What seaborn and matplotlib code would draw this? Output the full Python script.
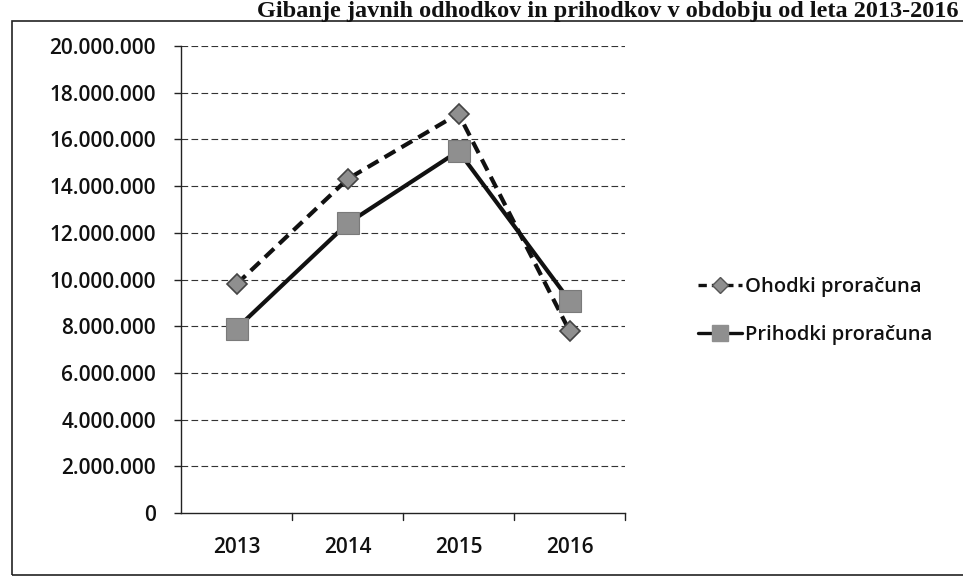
import matplotlib
matplotlib.use("Agg")
import matplotlib.pyplot as plt
import seaborn as sns
import pandas as pd
from matplotlib.lines import Line2D
from matplotlib.patches import Rectangle
from matplotlib.ticker import FuncFormatter, MultipleLocator

years = ["2013", "2014", "2015", "2016"]
ohodki = [9_800_000, 14_300_000, 17_100_000, 7_800_000]
prihodki = [7_900_000, 12_400_000, 15_500_000, 9_100_000]
series_names = ["Ohodki proračuna", "Prihodki proračuna"]
title = "Gibanje javnih odhodkov in prihodkov v obdobju od leta 2013-2016"

sns.set_theme(style="white")
plt.rcParams["font.family"] = ["Open Sans", "DejaVu Sans"]

W, H = 963, 587
fig = plt.figure(figsize=(W / 100, H / 100), dpi=100)
ax = fig.add_axes([181 / W, 1 - 513 / H, 444 / W, (513 - 46) / H])

df = pd.DataFrame({
    "x": list(range(len(years))) * 2,
    "value": ohodki + prihodki,
    "series": [series_names[0]] * 4 + [series_names[1]] * 4,
})

marker_gray = "#8f8f8f"
# Ohodki: dashed with diamonds
sns.lineplot(data=df[df.series == series_names[0]], x="x", y="value", ax=ax,
             color="#111111", linewidth=3.0, linestyle=(0, (3.0, 1.7)),
             marker="D", markersize=10, markerfacecolor=marker_gray,
             markeredgecolor="#444444", markeredgewidth=1.2, legend=False, zorder=4)
# Prihodki: solid with squares
sns.lineplot(data=df[df.series == series_names[1]], x="x", y="value", ax=ax,
             color="#111111", linewidth=3.0, linestyle="-",
             marker="s", markersize=16, markerfacecolor=marker_gray,
             markeredgecolor="#7a7a7a", markeredgewidth=0.8, legend=False, zorder=5)

ax.set_xlim(-0.5, 3.5)
ax.set_ylim(0, 20_000_000)
ax.yaxis.set_major_locator(MultipleLocator(2_000_000))
ax.yaxis.set_major_formatter(FuncFormatter(lambda v, p: f"{int(v):,}".replace(",", ".")))
ax.set_xticks(range(len(years)))
ax.set_xticklabels(years)
ax.set_xlabel("")
ax.set_ylabel("")

# gridlines
ax.grid(False)
for v in range(2_000_000, 20_000_001, 2_000_000):
    ax.axhline(v, color="#333333", linewidth=0.8, linestyle=(0, (6, 3)), zorder=1)

for s in ["top", "right"]:
    ax.spines[s].set_visible(False)
ax.spines["left"].set_color("#222222")
ax.spines["left"].set_linewidth(1.0)
ax.spines["bottom"].set_color("#222222")
ax.spines["bottom"].set_linewidth(1.0)

ax.tick_params(axis="y", which="major", length=5, width=1, color="#222222",
               direction="out", left=True, labelsize=15, pad=13, labelcolor="#111111")
ax.tick_params(axis="x", which="major", length=0, labelsize=15, pad=17,
               labelcolor="#111111")
for lab in ax.get_yticklabels() + ax.get_xticklabels():
    lab.set_fontweight("semibold")
# category boundary ticks (Excel style)
for b in [0.5, 1.5, 2.5, 3.5]:
    ax.plot([b, b], [0, -300_000], color="#222222", linewidth=1, clip_on=False)

# legend
handles = [
    Line2D([], [], color="#111111", linewidth=2.4, linestyle=(0, (2.5, 1.5)),
           marker="D", markersize=8, markerfacecolor=marker_gray,
           markeredgecolor="#555555"),
    Line2D([], [], color="#111111", linewidth=2.4, linestyle="-",
           marker="s", markersize=12, markerfacecolor=marker_gray,
           markeredgecolor=marker_gray),
]
fig.legend(handles, series_names, loc="center left",
           bbox_to_anchor=(680 / W, 1 - 311 / H), frameon=False,
           prop={"size": 14.5, "weight": "semibold"}, handlelength=2.2,
           handletextpad=0.15, labelspacing=1.35, labelcolor="#111111")

# outer frame (scanned box)
fig.patches.append(Rectangle((12 / W, 1 - 575 / H), 1.05, (575 - 21) / H,
                             transform=fig.transFigure, fill=False,
                             edgecolor="#222222", linewidth=1.2))

# title at the very top
fig.text(958 / W, 1 - 17 / H, title, ha="right", va="baseline",
         fontsize=17.5, fontweight="bold", family=["Liberation Serif", "DejaVu Serif"],
         color="#111111")

fig.savefig("out.png", dpi=100, facecolor="white")
